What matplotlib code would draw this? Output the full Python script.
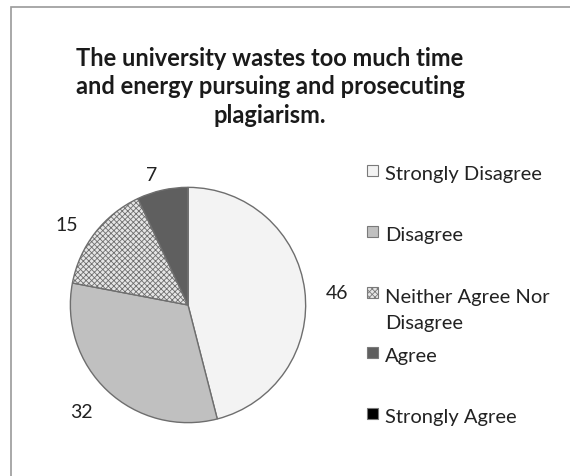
import matplotlib
matplotlib.use("Agg")
import matplotlib.pyplot as plt
from matplotlib.patches import Rectangle

# chart data
title = "The university wastes too much time\nand energy pursuing and prosecuting\nplagiarism."
categories = ["Strongly Disagree", "Disagree", "Neither Agree Nor\nDisagree", "Agree", "Strongly Agree"]
values = [46, 32, 15, 7, 0]
colors = ["#f3f3f3", "#c0c0c0", "#e6e6e6", "#5f5f5f", "#000000"]
hatches = [None, None, "xxxxxx", None, None]

plt.rcParams["font.family"] = ["Lato", "DejaVu Sans"]
plt.rcParams["hatch.color"] = "#8a8a8a"
plt.rcParams["hatch.linewidth"] = 0.6

W, H = 570, 476
fig = plt.figure(figsize=(W / 100, H / 100), dpi=100)


def fx(px):
    return px / W


def fy(py):
    return 1 - py / H


# chart frame (cropped screenshot: only top and left edges show)
fig.patches.append(Rectangle((fx(11), fy(490)), 600 / W, 483 / H,
                             transform=fig.transFigure, fill=False,
                             edgecolor="#9a9a9a", linewidth=1.2))

fig.text(fx(270), fy(87), title, ha="center", va="center",
         fontsize=17, fontweight="bold", linespacing=1.28, color="#1a1a1a")

ax = fig.add_axes([fx(68), 51 / H, 240 / W, 240 / H])
labels = [str(v) if v > 0 else "" for v in values]
wedges, texts = ax.pie(values, labels=labels, colors=colors, startangle=90,
                       counterclock=False, labeldistance=1.18,
                       wedgeprops=dict(edgecolor="#6e6e6e", linewidth=1.0),
                       textprops=dict(fontsize=14, color="#222222"))
for w, h in zip(wedges, hatches):
    if h:
        w.set_hatch(h)
for t in texts:
    x, y = t.get_position()
    t.set_position((x, y - 0.05))
ax.set_xlim(-1.02, 1.02)
ax.set_ylim(-1.02, 1.02)
ax.set_aspect("equal")

# legend, Excel style: entries on a fixed pitch, wrapped text runs downward
line_px = 27
for i, (cat, col, h) in enumerate(zip(categories, colors, hatches)):
    base = 180 + i * 60.75
    extra = cat.count("\n") * line_px
    fig.patches.append(Rectangle((fx(367), fy(base - 4)), 11 / W, 11 / H,
                                 transform=fig.transFigure, facecolor=col,
                                 edgecolor="#7a7a7a", linewidth=0.8,
                                 hatch=h))
    fig.text(fx(385), fy(base + extra), cat, ha="left", va="baseline",
             fontsize=14.5, color="#222222", linespacing=1.6)

fig.savefig("out.png", dpi=100)
